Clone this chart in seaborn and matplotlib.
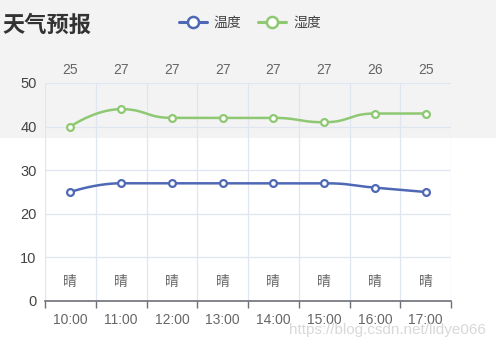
import numpy as np
import pandas as pd
import matplotlib
matplotlib.use("Agg")
import matplotlib.pyplot as plt
from matplotlib.lines import Line2D
from matplotlib.patches import Rectangle
import matplotlib.transforms as mtransforms
import seaborn as sns

# ---- data ----
times = ["10:00", "11:00", "12:00", "13:00", "14:00", "15:00", "16:00", "17:00"]
temperature = [25, 27, 27, 27, 27, 27, 26, 25]
humidity = [40, 44, 42, 42, 42, 41, 43, 43]
weather = ["晴", "晴", "晴", "晴", "晴", "晴", "晴", "晴"]
series_names = ["温度", "湿度"]
y_ticks = [0, 10, 20, 30, 40, 50]
title = "天气预报"
watermark = "https://blog.csdn.net/lidye066"

sns.set_theme(style="white")
plt.rcParams["font.family"] = ["Liberation Sans", "Noto Sans CJK SC", "DejaVu Sans"]

BLUE = "#4f68b5"
GREEN = "#8fc872"

fig = plt.figure(figsize=(4.96, 3.45), dpi=100)
fig.patch.set_facecolor("white")
fig.patches.append(Rectangle((0, 1 - 138 / 345), 1, 138 / 345, transform=fig.transFigure,
                             facecolor="#f3f3f3", edgecolor="none", zorder=-10))

ax = fig.add_axes([45 / 496, 1 - 301 / 345, (451 - 45) / 496, (301 - 83) / 345])
ax.set_facecolor("none")

x = np.arange(len(times))
px_x = (451 - 45) / 8.0      # pixels per category
px_y = (301 - 83) / 50.0     # pixels per unit


def smooth_curve(xs, ys, smooth=0.5, n=40):
    # echarts-like bezier smoothing computed in pixel space,
    # horizontal tangents at local extrema / flat neighbours
    P = np.column_stack([np.asarray(xs, float) * px_x, np.asarray(ys, float) * px_y])
    m = len(P)
    cin = P.copy()
    cout = P.copy()
    for i in range(1, m - 1):
        v = P[i + 1] - P[i - 1]
        if (P[i, 1] - P[i - 1, 1]) * (P[i + 1, 1] - P[i, 1]) <= 0:
            v = np.array([v[0], 0.0])
        d0 = np.linalg.norm(P[i] - P[i - 1])
        d1 = np.linalg.norm(P[i + 1] - P[i])
        r = d1 / (d0 + d1) if (d0 + d1) > 0 else 0.5
        cin[i] = P[i] - v * smooth * (1 - r)
        cout[i] = P[i] + v * smooth * r
    pts = []
    t = np.linspace(0, 1, n)[:, None]
    for i in range(m - 1):
        a, b, c, d = P[i], cout[i], cin[i + 1], P[i + 1]
        seg = ((1 - t) ** 3) * a + 3 * ((1 - t) ** 2) * t * b + 3 * (1 - t) * t ** 2 * c + t ** 3 * d
        pts.append(seg if i == 0 else seg[1:])
    pts = np.vstack(pts)
    return pts[:, 0] / px_x, pts[:, 1] / px_y


for vals, col in [(humidity, GREEN), (temperature, BLUE)]:
    sx, sy = smooth_curve(x, vals)
    curve = pd.DataFrame({"x": sx, "y": sy})
    sns.lineplot(data=curve, x="x", y="y", ax=ax, color=col, linewidth=1.8, sort=False,
                 estimator=None, zorder=3)
    pts = pd.DataFrame({"x": x, "y": vals})
    sns.scatterplot(data=pts, x="x", y="y", ax=ax, color="white", edgecolor=col,
                    linewidth=1.6, s=24, zorder=4)

ax.set_xlim(-0.5, len(times) - 0.5)
ax.set_ylim(0, 50)
ax.set_xlabel("")
ax.set_ylabel("")

ax.set_xticks(x)
ax.set_xticklabels(times)
ax.set_xticks(np.arange(-0.5, len(times), 1.0), minor=True)
ax.set_yticks(y_ticks)
ax.tick_params(axis="x", which="major", length=0, pad=9, labelsize=10, labelcolor="#666666")
ax.tick_params(axis="x", which="minor", bottom=True, length=5, width=1, color="#6e7079")
ax.tick_params(axis="y", length=0, pad=6, labelsize=10.5, labelcolor="#444444")

ax.grid(False)
ax.grid(axis="y", which="major", color="#e0e6f1", linewidth=0.9)
ax.grid(axis="x", which="minor", color="#e0e6f1", linewidth=0.9)
for s in ["left", "right", "top"]:
    ax.spines[s].set_visible(False)
ax.spines["bottom"].set_color("#6e7079")
ax.spines["bottom"].set_linewidth(1.2)

trans = mtransforms.blended_transform_factory(ax.transData, ax.transAxes)
for xi, t in zip(x, temperature):
    ax.text(xi, 1 + 13 / 218, str(t), transform=trans, ha="center", va="center",
            fontsize=10, color="#666666")
for xi, w in zip(x, weather):
    ax.text(xi, 19 / 218, w, transform=trans, ha="center", va="center",
            fontsize=10, color="#666666")

fig.text(2 / 496, 1 - 26 / 345, title, ha="left", va="center", fontsize=16,
         fontweight="bold", color="#333333")

handles = [Line2D([], [], color=BLUE, lw=2.2, marker="o", ms=8, mfc="white", mec=BLUE, mew=1.8),
           Line2D([], [], color=GREEN, lw=2.2, marker="o", ms=8, mfc="white", mec=GREEN, mew=1.8)]
fig.legend(handles, series_names, loc="center", bbox_to_anchor=(250 / 496, 1 - 23 / 345),
           ncol=2, frameon=False, fontsize=10, labelcolor="#444444", handlelength=2.0,
           handletextpad=0.5, columnspacing=1.2)

fig.text(486 / 496, 1 - 330 / 345, watermark, ha="right", va="center", fontsize=11,
         color="#d4d4d4", alpha=0.9)

fig.savefig("out.png", dpi=100)
